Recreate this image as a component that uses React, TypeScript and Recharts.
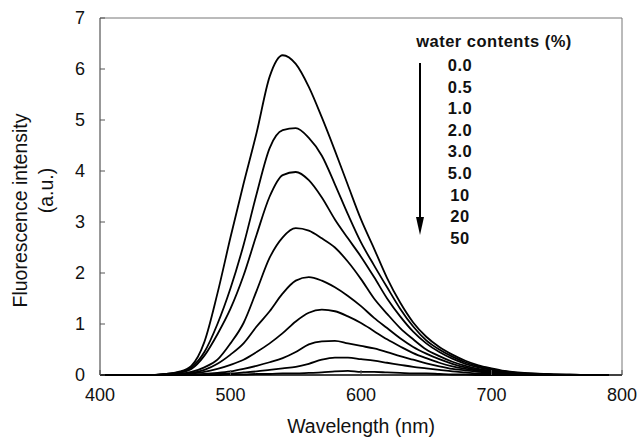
import { LineChart, Line, XAxis, YAxis, ReferenceLine, Label } from "recharts";

// wavelength grid (nm), 400..790 step 10
const wavelengths = [
  400, 410, 420, 430, 440, 450, 460, 470, 480, 490,
  500, 510, 520, 530, 540, 550, 560, 570, 580, 590,
  600, 610, 620, 630, 640, 650, 660, 670, 680, 690,
  700, 710, 720, 730, 740, 750, 760, 770, 780, 790,
];

// fluorescence intensity (a.u.) per water content
const w0_0 = [
  0, 0, 0, 0, 0, 0.02, 0.06, 0.18, 0.65, 1.6,
  2.7, 3.75, 4.75, 5.85, 6.27, 6.1, 5.65, 5.05, 4.4, 3.72,
  3.05, 2.48, 1.9, 1.42, 1.03, 0.75, 0.55, 0.4, 0.28, 0.19,
  0.13, 0.08, 0.05, 0.03, 0.02, 0.01, 0.01, 0, 0, 0,
];
const w0_5 = [
  0, 0, 0, 0, 0, 0.02, 0.05, 0.15, 0.45, 1.0,
  1.7, 2.55, 3.55, 4.45, 4.8, 4.84, 4.65, 4.3, 3.74, 3.15,
  2.6, 2.15, 1.72, 1.3, 0.95, 0.68, 0.5, 0.36, 0.25, 0.17,
  0.11, 0.07, 0.04, 0.03, 0.02, 0.01, 0, 0, 0, 0,
];
const w1_0 = [
  0, 0, 0, 0, 0, 0.01, 0.04, 0.12, 0.38, 0.8,
  1.3, 1.95, 2.75, 3.5, 3.92, 3.98, 3.82, 3.48, 3.05, 2.68,
  2.32, 1.92, 1.5, 1.15, 0.85, 0.62, 0.45, 0.32, 0.22, 0.15,
  0.1, 0.06, 0.04, 0.02, 0.01, 0, 0, 0, 0, 0,
];
const w2_0 = [
  0, 0, 0, 0, 0, 0.01, 0.02, 0.06, 0.15, 0.3,
  0.62, 1.02, 1.65, 2.3, 2.7, 2.88, 2.83, 2.68, 2.5, 2.22,
  1.88, 1.5, 1.2, 0.92, 0.7, 0.5, 0.37, 0.26, 0.18, 0.12,
  0.08, 0.05, 0.03, 0.02, 0.01, 0, 0, 0, 0, 0,
];
const w3_0 = [
  0, 0, 0, 0, 0, 0.01, 0.02, 0.04, 0.1, 0.22,
  0.4, 0.62, 0.95, 1.25, 1.6, 1.85, 1.92, 1.85, 1.72, 1.55,
  1.35, 1.12, 0.92, 0.72, 0.55, 0.42, 0.31, 0.22, 0.15, 0.1,
  0.07, 0.04, 0.03, 0.02, 0.01, 0, 0, 0, 0, 0,
];
const w5_0 = [
  0, 0, 0, 0, 0, 0, 0.01, 0.03, 0.06, 0.12,
  0.2, 0.3, 0.45, 0.62, 0.82, 1.05, 1.22, 1.28, 1.25, 1.15,
  1.02, 0.86, 0.7, 0.56, 0.43, 0.33, 0.24, 0.17, 0.12, 0.08,
  0.05, 0.03, 0.02, 0.01, 0, 0, 0, 0, 0, 0,
];
const w10 = [
  0, 0, 0, 0, 0, 0, 0.01, 0.01, 0.02, 0.04,
  0.07, 0.12, 0.18, 0.25, 0.33, 0.45, 0.6, 0.66, 0.67, 0.62,
  0.57, 0.52, 0.45, 0.37, 0.3, 0.23, 0.17, 0.12, 0.09, 0.06,
  0.04, 0.03, 0.02, 0.01, 0, 0, 0, 0, 0, 0,
];
const w20 = [
  0, 0, 0, 0, 0, 0, 0, 0, 0.01, 0.02,
  0.03, 0.05, 0.07, 0.1, 0.13, 0.16, 0.22, 0.3, 0.34, 0.34,
  0.31, 0.28, 0.24, 0.2, 0.16, 0.13, 0.1, 0.07, 0.05, 0.03,
  0.02, 0.01, 0, 0, 0, 0, 0, 0, 0, 0,
];
const w50 = [
  0, 0, 0, 0, 0, 0, 0, 0, 0, 0,
  0.01, 0.01, 0.02, 0.02, 0.03, 0.03, 0.04, 0.05, 0.07, 0.08,
  0.06, 0.06, 0.05, 0.04, 0.03, 0.03, 0.02, 0.01, 0.01, 0,
  0, 0, 0, 0, 0, 0, 0, 0, 0, 0,
];

const seriesLabels = ["0.0", "0.5", "1.0", "2.0", "3.0", "5.0", "10", "20", "50"];
const seriesValues = [w0_0, w0_5, w1_0, w2_0, w3_0, w5_0, w10, w20, w50];

const xTicks = [400, 500, 600, 700, 800];
const yTicks = [0, 1, 2, 3, 4, 5, 6, 7];

const FONT = '"Liberation Sans", Arial, sans-serif';

const data = wavelengths.map((wl, i) => {
  const row: Record<string, number> = { wl };
  seriesLabels.forEach((name, s) => { row[name] = seriesValues[s][i]; });
  return row;
});

function YTitle({ viewBox }: any) {
  const cy = viewBox ? viewBox.y + viewBox.height / 2 : 196;
  return (
    <g style={{ fontFamily: FONT, fontSize: 19.5 }} fill="#111">
      <text x={27} y={cy + 14} textAnchor="middle" transform={`rotate(-90 27 ${cy + 14})`}>
        Fluorescence intensity
      </text>
      <text x={53} y={cy - 6} textAnchor="middle" transform={`rotate(-90 53 ${cy - 6})`}>
        (a.u.)
      </text>
    </g>
  );
}

export default function App() {
  return (
    <div style={{ position: "absolute", left: 0, top: 0, width: 637, height: 439, background: "#fff" }}>
      <LineChart width={637} height={439} data={data} margin={{ top: 18, right: 15, left: 0, bottom: 0 }}>
        <XAxis
          dataKey="wl" type="number" domain={[400, 800]} ticks={xTicks} height={64}
          axisLine={{ stroke: "#000", strokeWidth: 1.5 }} tickLine={{ stroke: "#555" }}
          tickSize={-5} tickMargin={18}
          tick={{ fontSize: 18, fill: "#111", fontFamily: FONT }}
        >
          <Label value="Wavelength (nm)" position="insideBottom" offset={6}
            style={{ fontSize: 19.5, fontFamily: FONT, fill: "#111" }} />
        </XAxis>
        <YAxis
          type="number" domain={[0, 7]} ticks={yTicks} width={100} interval={0}
          axisLine={{ stroke: "#333", strokeWidth: 1 }} tickLine={{ stroke: "#555" }}
          tickSize={-5} tickMargin={20}
          tick={{ fontSize: 18, fill: "#111", fontFamily: FONT }}
        >
          <Label content={<YTitle />} />
        </YAxis>
        <ReferenceLine y={7} stroke="#777" strokeWidth={1} />
        <ReferenceLine x={800} stroke="#777" strokeWidth={1} />
        {seriesLabels.map(name => (
          <Line
            key={name} dataKey={name} type="monotone" stroke="#000" strokeWidth={1.8}
            dot={false} isAnimationActive={false}
          />
        ))}
      </LineChart>
      <svg width={637} height={439} style={{ position: "absolute", left: 0, top: 0, pointerEvents: "none" }}>
        <g style={{ fontFamily: FONT, fontWeight: "bold", fontSize: 16.5 }} fill="#111">
          <text x={494} y={47} textAnchor="middle" letterSpacing={0.5}>water contents (%)</text>
          {seriesLabels.map((name, i) => (
            <text key={name} x={460} y={71 + i * 21.6} textAnchor="middle" letterSpacing={0.5}>{name}</text>
          ))}
        </g>
        <line x1={420} y1={63} x2={420} y2={222} stroke="#000" strokeWidth={2} />
        <polygon points="416,217 424,217 420,235" fill="#000" />
      </svg>
    </div>
  );
}
